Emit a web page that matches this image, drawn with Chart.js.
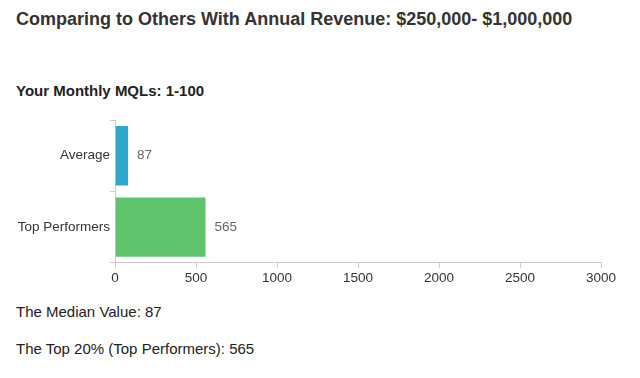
<!DOCTYPE html>
<html>
<head>
<meta charset="utf-8">
<script src="https://cdn.jsdelivr.net/npm/chart.js@4/dist/chart.umd.min.js"></script>
<style>
  html, body { margin: 0; padding: 0; background: #fff; width: 640px; height: 378px; overflow: hidden; font-family: "Liberation Sans", Arial, sans-serif; }
  .t { position: absolute; white-space: nowrap; color: #333; }
  #title { left: 16px; top: 9px; font-size: 18px; font-weight: bold; }
  #sub { left: 16px; top: 82px; font-size: 15px; font-weight: bold; color: #222; }
  #m1 { left: 16px; top: 303px; font-size: 15px; color: #222; }
  #m2 { left: 16px; top: 340px; font-size: 15px; color: #222; }
  #wrap { position: absolute; left: 0; top: 110px; width: 640px; height: 178px; }
</style>
</head>
<body>
<div class="t" id="title">Comparing to Others With Annual Revenue: $250,000- $1,000,000</div>
<div class="t" id="sub">Your Monthly MQLs: 1-100</div>
<div id="wrap"><canvas id="c"></canvas></div>
<div class="t" id="m1">The Median Value: 87</div>
<div class="t" id="m2">The Top 20% (Top Performers): 565</div>
<script>
const categories = ["Average", "Top Performers"];
const values = [87, 565];
const barColors = ["#2ea7cf", "#60c46d"];
const xTicks = [0, 500, 1000, 1500, 2000, 2500, 3000];

const valueLabels = {
  id: 'valueLabels',
  afterDatasetsDraw(chart) {
    const ctx = chart.ctx;
    const meta = chart.getDatasetMeta(0);
    ctx.save();
    ctx.font = '13.5px "Liberation Sans", Arial, sans-serif';
    ctx.fillStyle = '#666';
    ctx.textAlign = 'left';
    ctx.textBaseline = 'middle';
    meta.data.forEach((bar, i) => {
      ctx.fillText(String(values[i]), bar.x + 8, bar.y);
    });
    ctx.restore();
  }
};

new Chart(document.getElementById('c'), {
  type: 'bar',
  data: {
    labels: categories,
    datasets: [{
      data: values,
      backgroundColor: barColors,
      borderColor: 'rgba(255,255,255,0.5)',
      borderWidth: 1,
      categoryPercentage: 1,
      barPercentage: 0.86
    }]
  },
  options: {
    indexAxis: 'y',
    responsive: true,
    maintainAspectRatio: false,
    animation: false,
    layout: { padding: { top: 10, right: 39, left: 0, bottom: 0 } },
    plugins: { legend: { display: false }, tooltip: { enabled: false } },
    scales: {
      x: {
        min: 0, max: 3000,
        afterBuildTicks(scale) { scale.ticks = xTicks.map(v => ({ value: v })); },
        grid: { display: true, drawOnChartArea: false, drawTicks: true, tickLength: 5, color: '#ccc' },
        border: { color: '#ccc' },
        ticks: { color: '#333', font: { size: 13.5, family: '"Liberation Sans", Arial, sans-serif' }, padding: 2, maxRotation: 0,
                 callback: (v) => String(v) }
      },
      y: {
        afterFit(scale) { scale.width = 115; },
        grid: { display: true, drawOnChartArea: false, drawTicks: true, tickLength: 5, color: '#ccc' },
        border: { color: '#ccc' },
        ticks: { color: '#333', font: { size: 13.5, family: '"Liberation Sans", Arial, sans-serif' }, padding: 0 }
      }
    }
  },
  plugins: [valueLabels]
});
</script>
</body>
</html>
